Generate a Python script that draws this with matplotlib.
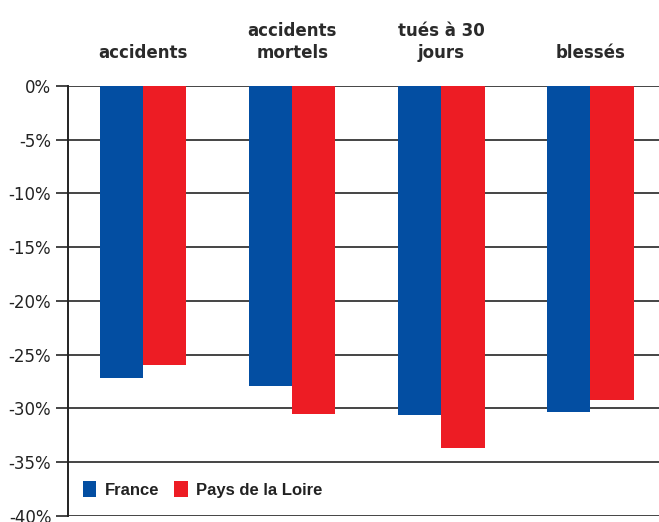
import numpy as np
import matplotlib.pyplot as plt
from matplotlib.transforms import blended_transform_factory

# categories and values (% change)
categories = ['accidents', 'accidents\nmortels', 'tués à 30\njours', 'blessés']
france = [-27.2, -27.9, -30.6, -30.3]
loire = [-26.0, -30.5, -33.7, -29.2]
yticks = [0, -5, -10, -15, -20, -25, -30, -35, -40]

blue = '#034ea2'
red = '#ed1c24'

fig = plt.figure(figsize=(6.59, 5.22), dpi=100)
ax = fig.add_axes([0.1032, 0.0115, 0.8968, 0.8238])

x = np.arange(len(categories))
w = 0.29
ax.bar(x - w / 2, france, w, color=blue, label='France', zorder=3)
ax.bar(x + w / 2, loire, w, color=red, label='Pays de la Loire', zorder=3)

ax.set_xlim(-0.503, 3.46)
ax.set_ylim(-40, 0)
ax.set_yticks(yticks)
ax.set_yticklabels([f'{v}%' for v in yticks], fontsize=12, color='#222222')
ax.yaxis.grid(True, color='#444444', linewidth=1.4, zorder=0)
ax.tick_params(axis='y', length=9, width=1.4, color='#444444', pad=3)
ax.set_xticks([])
for s in ['top', 'right', 'bottom']:
    ax.spines[s].set_visible(False)
ax.spines['left'].set_linewidth(1.4)
ax.spines['left'].set_color('#222222')

trans = blended_transform_factory(ax.transData, ax.transAxes)
for xi, lab in zip(x, categories):
    ax.text(xi, 1.056, lab, transform=trans, ha='center', va='bottom',
            fontsize=12, fontweight='bold', color='#2a2a2a', linespacing=1.25)

leg = ax.legend(loc='lower left', bbox_to_anchor=(0.0, 0.008), ncol=2, frameon=False,
                handlelength=0.8, handleheight=1.1, handletextpad=0.5, columnspacing=0.9,
                prop={'family': 'Liberation Sans', 'weight': 'bold', 'size': 12})
for t in leg.get_texts():
    t.set_color('#222222')

fig.savefig('out.png', dpi=100)
